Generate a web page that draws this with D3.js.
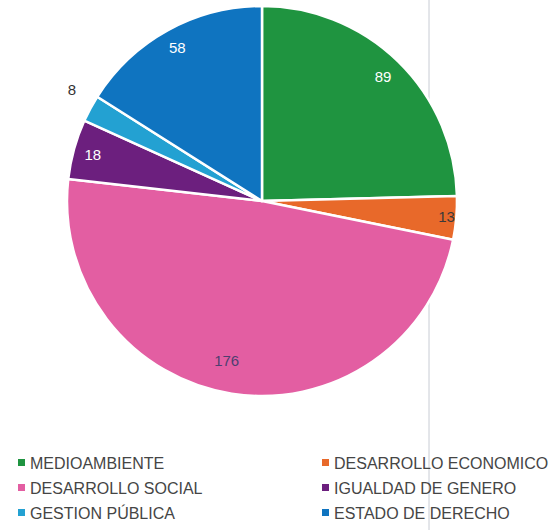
<!DOCTYPE html>
<html><head><meta charset="utf-8">
<script src="https://cdn.jsdelivr.net/npm/d3@7"></script>
<style>body{margin:0;background:#fff}svg{display:block}</style>
</head><body>
<svg id="c" width="549" height="530"></svg>
<script>
const categories = ["MEDIOAMBIENTE","DESARROLLO ECONOMICO","DESARROLLO SOCIAL","IGUALDAD DE GENERO","GESTION PÚBLICA","ESTADO DE DERECHO"];
const values = [89, 13, 176, 18, 8, 58];
const colors = ["#1f9440","#e8692a","#e35ea2","#6c1f7e","#23a1d2","#0f74c0"];
const labelColors = ["#ffffff","#3a3a3a","#4e3f70","#ffffff","#333333","#ffffff"];
const labelRadius = [0.89, 0.95, 0.84, 0.9, 1.13, 0.9];
const labelTurn = [0, 0, 3.5, 0, 2, 0];

const svg = d3.select("#c");
const cx = 262, cy = 201, r = 195;
svg.append("line").attr("x1",429).attr("x2",429).attr("y1",0).attr("y2",530)
  .attr("stroke","#c8ccd4").attr("stroke-width",1);

const pie = d3.pie().sort(null).value(d => d)(values);
const arc = d3.arc().innerRadius(0).outerRadius(r);
const g = svg.append("g").attr("transform",`translate(${cx},${cy})`);
g.selectAll("path").data(pie).join("path")
  .attr("d", arc).attr("fill",(d,i)=>colors[i])
  .attr("stroke","#fff").attr("stroke-width",2.5).attr("stroke-linejoin","round");

g.selectAll("text").data(pie).join("text")
  .attr("transform",(d,i)=>{
    const a=(d.startAngle+d.endAngle)/2 + labelTurn[i]*Math.PI/180, rr=r*labelRadius[i];
    return `translate(${Math.sin(a)*rr},${-Math.cos(a)*rr})`;})
  .attr("text-anchor","middle").attr("dy","0.35em")
  .attr("font-family","Liberation Sans, Arial, sans-serif").attr("font-size",15)
  .attr("fill",(d,i)=>labelColors[i]).text(d=>d.data);

const lg = svg.append("g");
categories.forEach((c,i)=>{
  const col=i%2, row=Math.floor(i/2);
  const x = col===0?18:322, y = 463+row*25;
  lg.append("rect").attr("x",x).attr("y",y-4).attr("width",7).attr("height",7).attr("fill",colors[i]);
  lg.append("text").attr("x",x+12).attr("y",y).attr("dy","0.35em")
    .attr("font-family","Liberation Sans, Arial, sans-serif").attr("font-size",16)
    .attr("fill","#454545").text(c);
});
</script>
</body></html>
